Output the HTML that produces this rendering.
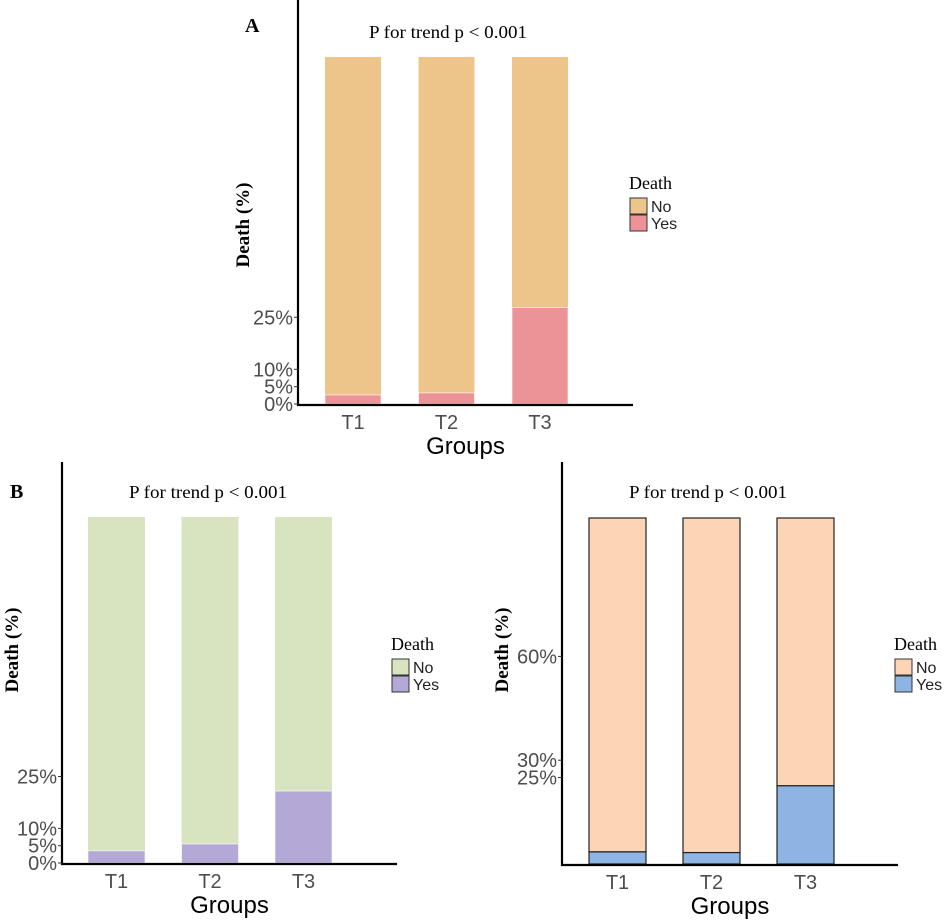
<!DOCTYPE html>
<html><head><meta charset="utf-8">
<style>
html,body{margin:0;padding:0;background:#fff;}
svg{display:block;}
.tick{font-family:"Liberation Sans",sans-serif;font-size:20px;fill:#4d4d4d;}
.serif{font-family:"Liberation Serif",serif;}
</style></head>
<body>
<svg id="fig" width="944" height="921" viewBox="0 0 944 921" xmlns="http://www.w3.org/2000/svg">
<text class="serif" x="245" y="32" font-size="20" font-weight="bold">A</text>
<text class="serif" x="10" y="498" font-size="20" font-weight="bold">B</text>
</svg>
<script>
const categories = ["T1", "T2", "T3"];
const yesA = [2.6, 3.2, 27.8];
const yesB = [3.5, 5.5, 20.8];
const yesC = [3.5, 3.3, 22.6];
const ticksA = [0, 5, 10, 25];
const ticksB = [0, 5, 10, 25];
const ticksC = [25, 30, 60];

const NS = "http://www.w3.org/2000/svg";
const svg = document.getElementById("fig");
function mk(tag, attrs, parent){
  const e = document.createElementNS(NS, tag);
  for (const k in attrs) e.setAttribute(k, attrs[k]);
  (parent||svg).appendChild(e);
  return e;
}
function panel(p){
  const g = mk("g", {});
  
  
  const y = v => p.y0 - v * p.pxPer;
  const x = i => p.barX0 + i * p.step;
  categories.forEach((c, i) => {
    const no = mk("rect", {x: x(i), y: y(100), width: p.bw, height: y(p.yes[i]) - y(100), fill: p.noCol, stroke: p.stroke, "stroke-width": p.stroke === "none" ? 0 : 1.2}, g);
    
    
    const ye = mk("rect", {x: x(i), y: y(p.yes[i]), width: p.bw, height: y(0) - y(p.yes[i]), fill: p.yesCol, stroke: p.stroke === "none" ? "#fff" : p.stroke, "stroke-width": p.stroke === "none" ? 0.6 : 1.2}, g);
    
    
    const lbl = mk("text", {x: x(i) + p.bw / 2, y: p.y0 + 25, "text-anchor": "middle", class: "tick"}, g);
    lbl.textContent = c;
    
    
  });
  const ax = mk("path", {d: `M${p.ax} ${p.yTop} V${p.y0 + 1} H${p.xEnd}`, fill: "none", stroke: "#000", "stroke-width": 2.2}, g);
  
  
  p.ticks.forEach(t => {
    const tl = mk("line", {x1: p.ax - 4, x2: p.ax, y1: y(t), y2: y(t), stroke: "#333", "stroke-width": 1}, g);
    
    
    const tx = mk("text", {x: p.ax - 5, y: y(t) + 7, "text-anchor": "end", class: "tick"}, g);
    tx.textContent = t + "%";
    
    
  });
  const xt = mk("text", {x: (p.ax + p.xEnd) / 2, y: p.y0 + 50, "text-anchor": "middle", "font-family": "Liberation Sans, sans-serif", "font-size": 24, fill: "#000"}, g);
  xt.textContent = "Groups";
  
  
  const yt = mk("text", {x: 0, y: 0, transform: `translate(${p.ytx},${p.yty}) rotate(-90)`, "text-anchor": "middle", class: "serif", "font-size": 19, "font-weight": "bold"}, g);
  yt.textContent = "Death (%)";
  
  
  const tt = mk("text", {x: p.tx, y: p.ty, "text-anchor": "middle", class: "serif", "font-size": 18, textLength: 158, lengthAdjust: "spacingAndGlyphs"}, g);
  tt.textContent = "P for trend p < 0.001";
  
  
  const lt = mk("text", {x: p.lx, y: p.ly, class: "serif", "font-size": 18}, g);
  lt.textContent = "Death";
  
  
  [["No", p.noCol], ["Yes", p.yesCol]].forEach((d, k) => {
    const r = mk("rect", {x: p.lx + 1, y: p.ly + 9 + k * 17, width: 17, height: 16, fill: d[1], stroke: "#333", "stroke-width": 1}, g);
    
    
    const t = mk("text", {x: p.lx + 22, y: p.ly + 23 + k * 17, "font-family": "Liberation Sans, sans-serif", "font-size": 16, fill: "#222"}, g);
    t.textContent = d[0];
    
    
  });
}
panel({name: "panel-a", yes: yesA, ticks: ticksA, y0: 404, pxPer: 3.47, barX0: 325, step: 93.5, bw: 56, ax: 298, yTop: 0, xEnd: 633,
  noCol: "#EDC48A", yesCol: "#EC9398", stroke: "none", ytx: 249, yty: 225, tx: 448, ty: 38, lx: 629, ly: 189});
panel({name: "panel-b-left", yes: yesB, ticks: ticksB, y0: 863, pxPer: 3.46, barX0: 88, step: 93.5, bw: 57, ax: 62, yTop: 462, xEnd: 397,
  noCol: "#D8E4C0", yesCol: "#B3A8D6", stroke: "none", ytx: 18, yty: 650, tx: 208, ty: 498, lx: 391, ly: 650});
panel({name: "panel-b-right", yes: yesC, ticks: ticksC, y0: 864, pxPer: 3.46, barX0: 589, step: 94, bw: 57, ax: 562, yTop: 462, xEnd: 898,
  noCol: "#FBD5B5", yesCol: "#8DB4E2", stroke: "#222", ytx: 508, yty: 650, tx: 708, ty: 498, lx: 894, ly: 650});
</script>
</body></html>
